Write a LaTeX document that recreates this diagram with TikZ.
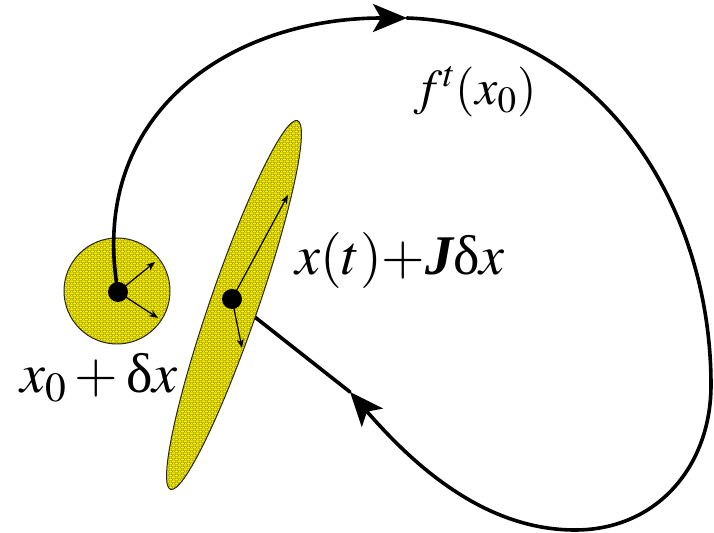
\documentclass[tikz,border=0pt]{standalone}
\usepackage{mathptmx}
\usepackage{fontspec}
\setmainfont{Liberation Serif}
\usetikzlibrary{arrows.meta,shapes.geometric,patterns.meta}
\definecolor{cCell}{RGB}{255,248,0}
\definecolor{cMesh}{RGB}{150,142,0}
\definecolor{cInk}{RGB}{0,0,0}

% mesh texture of the two blobs
\tikzdeclarepattern{
  name=honeycomb,
  type=uncolored,
  bottom left={(0pt,0pt)},
  top right={(3pt,2pt)},
  tile size={(3pt,2pt)},
  code={
    \draw[line width=0.18pt] (1.5pt,1pt) ellipse [x radius=1.3pt, y radius=0.55pt];
    \foreach \cx/\cy in {0/0,3/0,0/2,3/2}
      \draw[line width=0.18pt] (\cx pt,\cy pt) ellipse [x radius=1.3pt, y radius=0.55pt];
  }
}

\begin{document}
\begin{tikzpicture}[
  x=0.5pt, y=0.5pt,
  blob/.style={draw=cInk!85, line width=0.5pt, preaction={fill=cCell},
               pattern=honeycomb, pattern color=cMesh, inner sep=0pt},
  dot/.style={circle, fill=cInk, inner sep=0pt, minimum size=10pt},
  vec/.style={-{Stealth[length=4.5pt,width=3.5pt]}, line width=0.6pt, draw=cInk},
  traj/.style={line width=1.8pt, draw=cInk, line cap=round},
  head/.tip={Stealth[length=17pt,width=14pt,inset=4pt]},
  lbl/.style={font=\fontsize{28}{32}\selectfont, inner sep=0pt, anchor=base west},
  lblf/.style={lbl, font=\fontsize{25}{29}\selectfont}]

\useasboundingbox (0,0) rectangle (714,-533);

% ---- points ----
\coordinate (c0) at (118,-292);
\coordinate (c1) at (232,-299);
\coordinate (top) at (407,-18);
\coordinate (rgt) at (711,-385);
\coordinate (bot) at (575,-530);
\coordinate (ret) at (350,-392);

% ---- initial ball ----
\node[blob, circle, minimum size=53pt] (ball) at (117,-291) {};

% ---- trajectory ----
\draw[traj, -head] (c0) to[out=100, in=180, looseness=1.15] (top);
\draw[traj] (top) to[out=-2, in=90] (rgt);
\draw[traj] (rgt) to[out=-90, in=0, looseness=1.05] (bot);
\draw[traj, -head] (bot) to[out=180, in=-49, looseness=0.9] (ret);
\draw[traj] (ret) -- (c1);

% ---- stretched ellipse ----
\node[blob, ellipse, rotate=71, minimum width=195pt, minimum height=24pt]
  (ell) at (234,-305) {};

% ---- dots and tangent vectors ----
\node[dot] (p0) at (c0) {};
\node[dot] (pt) at (c1) {};
\coordinate (v1) at (155,-262);
\coordinate (v2) at (158,-318);
\coordinate (w1) at (288,-195);
\coordinate (w2) at (242,-348);
\draw[vec] (p0.center) -- (v1);
\draw[vec] (p0.center) -- (v2);
\draw[vec] (pt.center) -- (w1);
\draw[vec] (pt.center) -- (w2);

% ---- labels ----
\node[lbl] (lx0) at (20,-393) {$x_0+\mbox{δ}x$};
\node[lbl] (lxt) at (295,-275) {$x(t){+}\mbox{\bfseries\itshape J}\mbox{δ}x$};
\node[lblf] (lft) at (414,-105) {$f^t(x_0)$};
\end{tikzpicture}
\end{document}
